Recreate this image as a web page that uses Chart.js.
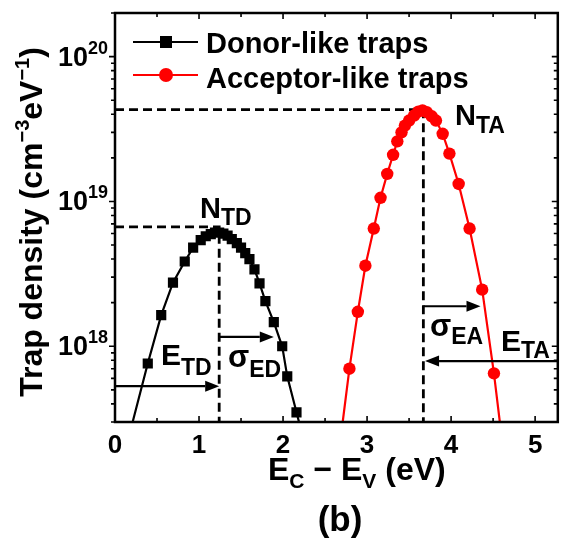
<!DOCTYPE html>
<html>
<head>
<meta charset="utf-8">
<script src="https://cdn.jsdelivr.net/npm/chart.js@4.4.0/dist/chart.umd.min.js"></script>
<style>
  body { margin: 0; background: #fff; }
  canvas { display: block; }
</style>
</head>
<body>
<canvas id="trapChart" width="565" height="538"></canvas>
<script>
// donor-like traps (squares), E in eV, N in cm^-3 eV^-1
var donorE = [0.39, 0.55, 0.69, 0.83, 0.93, 1.02, 1.08, 1.14, 1.19, 1.24, 1.29, 1.34,
              1.39, 1.45, 1.50, 1.55, 1.60, 1.66, 1.72, 1.79, 1.89, 1.99, 2.05, 2.16];
var donorN = [7.6e17, 1.64e18, 2.75e18, 3.85e18, 4.8e18, 5.4e18, 5.75e18, 5.95e18, 6.1e18, 6.1e18, 6.0e18, 5.8e18,
              5.5e18, 5.15e18, 4.8e18, 4.4e18, 4.0e18, 3.4e18, 2.72e18, 2.05e18, 1.47e18, 1.0e18, 6.2e17, 3.5e17];

// acceptor-like traps (circles)
var acceptorE = [2.79, 2.89, 2.98, 3.08, 3.16, 3.24, 3.31, 3.36, 3.41, 3.45, 3.50, 3.56,
                 3.61, 3.66, 3.71, 3.77, 3.82, 3.90, 3.98, 4.09, 4.22, 4.37, 4.51];
var acceptorN = [7.0e17, 1.73e18, 3.6e18, 6.5e18, 1.06e19, 1.55e19, 2.1e19, 2.6e19, 3.0e19, 3.34e19, 3.62e19, 3.92e19,
                 4.17e19, 4.25e19, 4.13e19, 3.87e19, 3.62e19, 2.93e19, 2.14e19, 1.32e19, 6.5e18, 2.46e18, 6.5e17];

// where the fitted curves leave the bottom of the plot
var donorEnds = [0.21, 2.19];
var acceptorEnds = [2.71, 4.58];

// peak markers [E, N]
var peakTD = [1.24, 6.67e18];
var peakTA = [3.67, 4.3e19];

// arrows [fromE, toE, N]
var arrowETD = [0, 1.24, 5.3e17];
var arrowSED = [1.24, 1.89, 1.16e18];
var arrowSEA = [3.67, 4.35, 1.89e18];
var arrowETA = [5.27, 3.69, 7.9e17];

var xTicks = [0, 1, 2, 3, 4, 5];
var yDecades = [18, 19, 20];
var xMin = 0, xMax = 5.27, yMin = 3e17, yMax = 2e20;

var FACE = '"Liberation Sans", Arial, sans-serif';
function font(px) { return 'bold ' + px + 'px ' + FACE; }

function pts(es, ns) {
    return es.map(function(e, i) { return { x: e, y: ns[i] }; });
}

// draws pieces [text, size, dy] one after another from x
function pieces(c, list, x, y) {
    list.forEach(function(p) {
        c.font = font(p[1]);
        c.fillText(p[0], x, y + p[2]);
        x += c.measureText(p[0]).width;
    });
    return x;
}
function piecesWidth(c, list) {
    var w = 0;
    list.forEach(function(p) { c.font = font(p[1]); w += c.measureText(p[0]).width; });
    return w;
}

function arrow(c, x1, x2, y) {
    var dir = x2 > x1 ? 1 : -1, head = 14, half = 5.5;
    c.beginPath();
    c.moveTo(x1, y);
    c.lineTo(x2 - dir * head, y);
    c.stroke();
    c.beginPath();
    c.moveTo(x2, y);
    c.lineTo(x2 - dir * head, y - half);
    c.lineTo(x2 - dir * head, y + half);
    c.closePath();
    c.fill();
}

var decor = {
    id: 'decor',
    afterDatasetsDraw: function(chart) {
        var c = chart.ctx, a = chart.chartArea;
        var xs = chart.scales.x, ys = chart.scales.y;
        c.save();
        c.fillStyle = '#000';
        c.strokeStyle = '#000';

        // arrows
        c.lineWidth = 2.2;
        [arrowETD, arrowSED, arrowSEA, arrowETA].forEach(function(r) {
            arrow(c, xs.getPixelForValue(r[0]), xs.getPixelForValue(r[1]), ys.getPixelForValue(r[2]));
        });

        // frame
        c.lineWidth = 2.5;
        c.strokeRect(a.left, a.top, a.right - a.left, a.bottom - a.top);

        // x ticks, bottom and top, inside
        c.lineWidth = 1.6;
        for (var v = 0; v <= xMax + 1e-9; v += 0.5) {
            var px = xs.getPixelForValue(v);
            var len = (Math.abs(v - Math.round(v)) < 1e-6) ? 6 : 4;
            c.beginPath();
            c.moveTo(px, a.bottom); c.lineTo(px, a.bottom - len);
            c.moveTo(px, a.top); c.lineTo(px, a.top + len);
            c.stroke();
        }
        // y ticks, left outside, right inside
        for (var d = 17; d <= 20; d++) {
            for (var m = 1; m <= 9; m++) {
                var val = m * Math.pow(10, d);
                if (val < yMin || val > yMax) continue;
                var py = ys.getPixelForValue(val);
                var l2 = m === 1 ? 6 : 4;
                c.beginPath();
                c.moveTo(a.left, py); c.lineTo(a.left - l2, py);
                c.moveTo(a.right, py); c.lineTo(a.right - l2, py);
                c.stroke();
            }
        }

        // x tick labels
        c.textAlign = 'center';
        c.textBaseline = 'alphabetic';
        c.font = font(26);
        xTicks.forEach(function(t) {
            c.fillText(String(t), xs.getPixelForValue(t), 453);
        });

        // y tick labels 10^n
        c.textAlign = 'left';
        yDecades.forEach(function(dd) {
            var py = ys.getPixelForValue(Math.pow(10, dd));
            var list = [['10', 27, 0], [String(dd), 18, -12]];
            var w = piecesWidth(c, list);
            pieces(c, list, 108 - w, py + 9);
        });

        // axis titles
        var xt = [['E', 32, 0], ['C', 21, 8], [' \u2212 E', 32, 0], ['V', 21, 8], [' (eV)', 32, 0]];
        pieces(c, xt, 268, 480);

        var yt = [['Trap density (cm', 32, 0], ['\u22123', 20, -13], ['eV', 32, 0], ['\u22121', 20, -13], [')', 32, 0]];
        c.save();
        c.translate(42, 222);
        c.rotate(-Math.PI / 2);
        var yw = piecesWidth(c, yt);
        pieces(c, yt, -yw / 2, 0);
        c.restore();

        c.textAlign = 'center';
        c.font = font(35);
        c.fillText('(b)', 340, 531);
        c.textAlign = 'left';

        // legend
        c.lineWidth = 2.2;
        c.beginPath(); c.moveTo(133, 42); c.lineTo(198, 42); c.stroke();
        c.fillRect(166 - 6, 42 - 6, 12, 12);
        c.strokeStyle = '#ff0000'; c.fillStyle = '#ff0000';
        c.beginPath(); c.moveTo(133, 75); c.lineTo(198, 75); c.stroke();
        c.beginPath(); c.arc(166, 75, 7, 0, Math.PI * 2); c.fill();
        c.fillStyle = '#000'; c.strokeStyle = '#000';
        c.font = font(29);
        c.fillText('Donor-like traps', 206, 53);
        c.fillText('Acceptor-like traps', 206, 88);

        // annotations
        pieces(c, [['N', 29, 0], ['TD', 23, 7]], 200, 218);
        pieces(c, [['N', 29, 0], ['TA', 23, 8]], 455, 125);
        pieces(c, [['E', 30, 0], ['TD', 23, 10]], 161, 365);
        pieces(c, [['\u03c3', 31, 0], ['ED', 23, 10]], 228, 367);
        pieces(c, [['\u03c3', 31, 0], ['EA', 23, 8]], 430, 336);
        pieces(c, [['E', 30, 0], ['TA', 23, 7]], 501, 351);

        c.restore();
    }
};

new Chart(document.getElementById('trapChart'), {
    type: 'scatter',
    data: {
        datasets: [{
            data: pts(donorE, donorN),
            pointStyle: 'rect',
            pointRadius: 7.2,
            pointBackgroundColor: '#000',
            pointBorderWidth: 0,
            showLine: false,
            order: 0
        }, {
            data: pts(acceptorE, acceptorN),
            pointStyle: 'circle',
            pointRadius: 6.2,
            pointBackgroundColor: '#ff0000',
            pointBorderWidth: 0,
            showLine: false,
            order: 0
        }, {
            data: pts([donorEnds[0]].concat(donorE, [donorEnds[1]]), [yMin].concat(donorN, [yMin])),
            showLine: true,
            borderColor: '#000',
            borderWidth: 2.2,
            pointRadius: 0,
            order: 1
        }, {
            data: pts([acceptorEnds[0]].concat(acceptorE, [acceptorEnds[1]]), [yMin].concat(acceptorN, [yMin])),
            showLine: true,
            borderColor: '#ff0000',
            borderWidth: 2.2,
            pointRadius: 0,
            order: 1
        }, {
            data: pts([xMin, peakTD[0], peakTD[0]], [peakTD[1], peakTD[1], yMin]),
            showLine: true,
            borderColor: '#000',
            borderWidth: 2.8,
            borderDash: [9, 5],
            pointRadius: 0,
            order: 2
        }, {
            data: pts([xMin, peakTA[0], peakTA[0]], [peakTA[1], peakTA[1], yMin]),
            showLine: true,
            borderColor: '#000',
            borderWidth: 2.8,
            borderDash: [9, 5],
            pointRadius: 0,
            order: 2
        }]
    },
    options: {
        responsive: false,
        animation: false,
        devicePixelRatio: 1,
        layout: { padding: { top: 13, right: 2, left: 0, bottom: 0 } },
        plugins: { legend: { display: false }, tooltip: { enabled: false } },
        scales: {
            x: {
                type: 'linear', min: xMin, max: xMax,
                grid: { display: false }, border: { display: false },
                ticks: { display: false },
                afterFit: function(s) { s.height = 116; }
            },
            y: {
                type: 'logarithmic', min: yMin, max: yMax,
                grid: { display: false }, border: { display: false },
                ticks: { display: false },
                afterFit: function(s) { s.width = 115; }
            }
        }
    },
    plugins: [decor]
});
</script>
</body>
</html>
